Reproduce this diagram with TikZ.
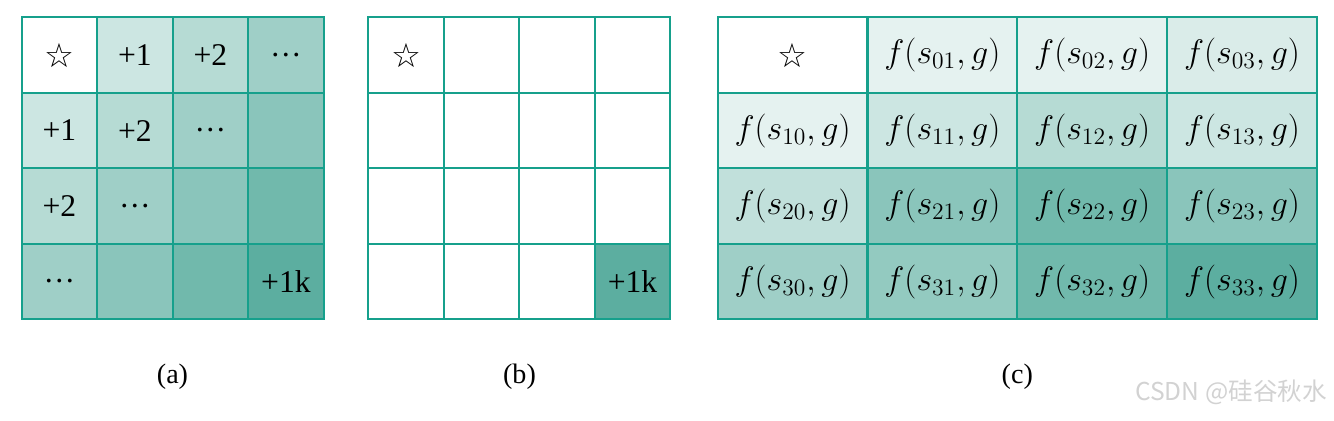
\documentclass[tikz,border=0pt]{standalone}
\usepackage{fontspec}
\setmainfont{Liberation Serif}
\newfontfamily\symfont{DejaVu Sans}
\newfontfamily\cjkfont{Noto Sans CJK SC}

\definecolor{gridline}{RGB}{22,160,140}
\definecolor{cellbase}{RGB}{92,174,160}

\tikzset{
  cell/.style={draw=gridline, line width=1.2pt},
  celltext/.style={font=\fontsize{18}{20}\selectfont},
  mathtext/.style={font=\fontsize{17.28}{20}\selectfont, scale=1.12},
  caption/.style={font=\fontsize{16}{18}\selectfont},
}

\newcommand{\hollowstar}{{\symfont\fontsize{19}{20}\selectfont ☆}}
\newcommand{\middots}{\vphantom{+1}···}

\begin{document}
\begin{tikzpicture}[x=0.02cm,y=0.02cm]
    \useasboundingbox (0,0) rectangle (1334,420);

    % 网格参数
    \def\gtop{402.7}   % 上边
    \def\ch{75.5}      % 格高
    \def\ax{21.7}      % (a) 左边
    \def\bx{368.3}     % (b) 左边
    \def\cx{717.7}     % (c) 左边
    \def\cw{149.8}     % (c) 格宽

    % (a) 按 r+c 加深
    \foreach \r in {0,...,3} {
        \foreach \c in {0,...,3} {
            \pgfmathtruncatemacro\d{\r+\c}
            \pgfmathtruncatemacro\p{{0,31,45,59,72,87,100}[\d]}
            \filldraw[cell, fill=cellbase!\p!white]
                (\ax+\c*\ch, \gtop-\r*\ch) rectangle (\ax+\c*\ch+\ch, \gtop-\r*\ch-\ch);
        }
    }
    \foreach \r/\c/\t in {0/1/+1, 1/0/+1, 0/2/+2, 1/1/+2, 2/0/+2,
                          0/3/\middots, 1/2/\middots, 2/1/\middots, 3/0/\middots, 3/3/+1k} {
        \node[celltext] (a\r\c) at (\ax+\c*\ch+\ch/2, \gtop-\r*\ch-\ch/2) {\t};
    }
    \node (a00) at (\ax+\ch/2, \gtop-\ch/2) {\hollowstar};

    % (b) 只有终点
    \foreach \r in {0,...,3} {
        \foreach \c in {0,...,3} {
            \pgfmathtruncatemacro\p{(\r==3 && \c==3) ? 100 : 0}
            \filldraw[cell, fill=cellbase!\p!white]
                (\bx+\c*\ch, \gtop-\r*\ch) rectangle (\bx+\c*\ch+\ch, \gtop-\r*\ch-\ch);
        }
    }
    \node (b00) at (\bx+\ch/2, \gtop-\ch/2) {\hollowstar};
    \node[celltext] (b33) at (\bx+3.5*\ch, \gtop-3.5*\ch) {+1k};

    % (c) f(s_ij, g)
    \foreach \r/\c/\p in {0/0/0, 0/1/16, 0/2/16, 0/3/23,
                          1/0/16, 1/1/31, 1/2/45, 1/3/31,
                          2/0/38, 2/1/72, 2/2/87, 2/3/72,
                          3/0/59, 3/1/66, 3/2/87, 3/3/100} {
        \filldraw[cell, fill=cellbase!\p!white]
            (\cx+\c*\cw, \gtop-\r*\ch) rectangle (\cx+\c*\cw+\cw, \gtop-\r*\ch-\ch);
        \ifnum\r\c>0
            \node[mathtext] (c\r\c) at (\cx+\c*\cw+\cw/2, \gtop-\r*\ch-\ch/2) {$f(s_{\r\c},g)$};
        \fi
    }
    \node (c00) at (\cx+\cw/2, \gtop-\ch/2) {\hollowstar};

    % 子图标题
    \node[caption] (capa) at (172.5,43) {(a)};
    \node[caption] (capb) at (519.5,43) {(b)};
    \node[caption] (capc) at (1017.3,43) {(c)};

    % 水印
    \node[text=gray!35, font=\cjkfont\fontsize{14}{15}\selectfont] (mark) at (1231,28) {CSDN @硅谷秋水};
\end{tikzpicture}
\end{document}
